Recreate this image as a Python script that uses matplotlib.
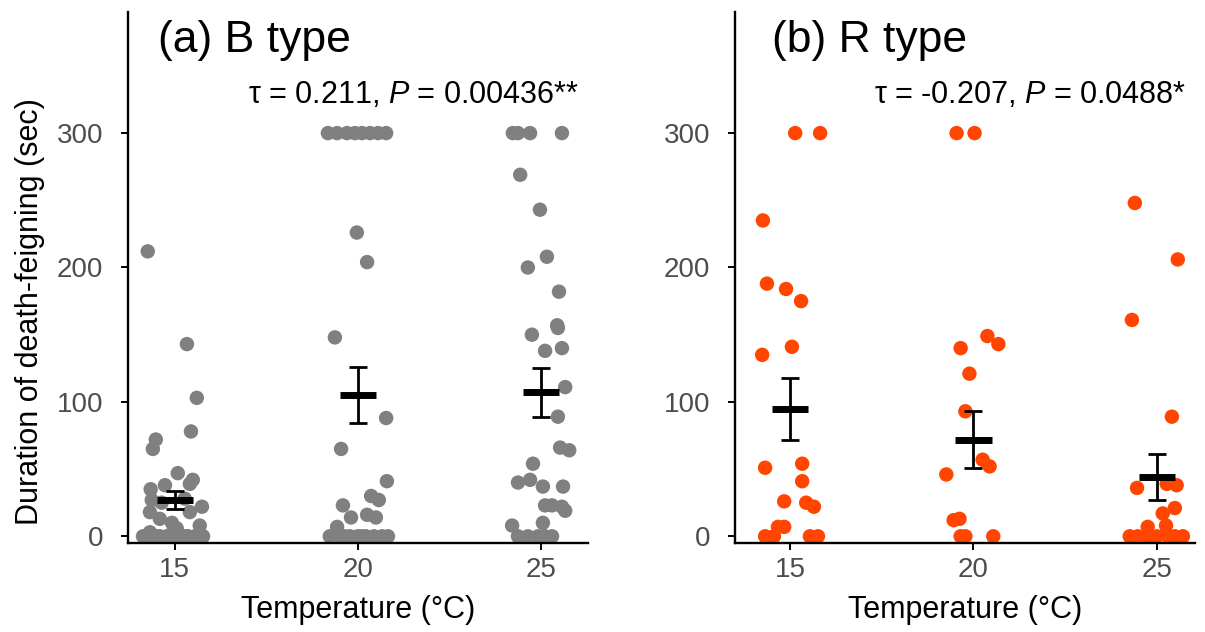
import numpy as np
import matplotlib
matplotlib.use('Agg')
import matplotlib.pyplot as plt

plt.rcParams['font.family'] = ['Liberation Sans', 'DejaVu Sans']
plt.rcParams['mathtext.fontset'] = 'custom'
plt.rcParams['mathtext.rm'] = 'Liberation Sans'
plt.rcParams['mathtext.it'] = 'Liberation Sans:italic'

temps = [15, 20, 25]

# B type: jittered temperature and duration (sec)
b_x = [14.26, 15.33, 15.60, 15.44, 14.48, 14.40, 15.08, 15.49, 15.41, 14.73,
       14.34, 14.37, 15.27, 14.64, 15.74, 15.41, 14.32, 14.59, 14.92, 15.68,
       15.05, 14.32, 14.13, 14.45, 14.78, 15.14, 15.77, 15.36, 14.92, 14.26,
       14.59, 15.55, 15.00, 14.20, 15.20, 14.85, 15.62, 14.50, 15.30,
       19.18, 19.43, 19.70, 19.92, 20.11, 20.33, 20.55, 20.77, 19.97, 20.25,
       19.37, 20.77, 19.54, 20.79, 20.36, 20.57, 19.59, 19.81, 20.25, 20.49,
       19.43, 19.23, 19.51, 19.78, 20.00, 20.22, 20.44, 20.66, 20.82, 19.64,
       20.11,
       24.23, 24.37, 24.70, 25.57, 24.43, 24.97, 25.16, 24.64, 25.49, 25.44,
       25.46, 24.75, 25.57, 25.11, 25.66, 25.46, 25.52, 25.77, 24.78, 24.37,
       24.70, 25.05, 25.60, 25.11, 25.30, 25.57, 25.66, 24.21, 25.05, 24.37,
       24.64, 24.92, 25.30, 25.11]
b_y = [212, 143, 103, 78, 72, 65, 47, 42, 39, 38,
       35, 27, 28, 25, 22, 18, 18, 13, 10, 8,
       6, 3, 0, 0, 0, 0, 0, 0, 2, 0,
       0, 0, 0, 0, 0, 0, 0, 0, 0,
       300, 300, 300, 300, 300, 300, 300, 300, 226, 204,
       148, 88, 65, 41, 30, 27, 23, 14, 16, 14,
       7, 0, 0, 0, 0, 0, 0, 0, 0, 0,
       0,
       300, 300, 300, 300, 269, 243, 208, 200, 182, 157,
       155, 150, 140, 138, 111, 89, 66, 64, 54, 40,
       42, 37, 37, 23, 23, 22, 19, 8, 10, 0,
       0, 0, 0, 0]
b_mean = [27, 105, 107]
b_se = [7, 21, 18]

# R type
r_x = [15.14, 15.82, 14.26, 14.37, 14.89, 15.30, 15.05, 14.24, 14.32, 15.33,
       15.33, 14.84, 15.44, 15.65, 14.67, 14.84, 14.32, 14.56, 15.54, 15.76,
       19.54, 20.03, 20.38, 20.68, 19.65, 19.89, 19.78, 20.25, 20.44, 19.26,
       19.46, 19.62, 19.65, 19.78, 20.54,
       24.40, 25.57, 24.32, 25.41, 24.46, 25.27, 25.54, 25.49, 25.16, 24.75,
       25.25, 24.26, 24.48, 24.75, 25.00, 25.30, 25.49, 25.71]
r_y = [300, 300, 235, 188, 184, 175, 141, 135, 51, 54,
       41, 26, 25, 22, 7, 7, 0, 0, 0, 0,
       300, 300, 149, 143, 140, 121, 93, 57, 52, 46,
       12, 13, 0, 0, 0,
       248, 206, 161, 89, 36, 39, 38, 21, 17, 7,
       8, 0, 0, 0, 0, 0, 0, 0]
r_mean = [95, 72, 44]
r_se = [23, 21, 17]

panels = [
    ("(a) B type", b_x, b_y, b_mean, b_se, '#808080',
     r"τ = 0.211, $\it{P}$ = 0.00436**", (13.72, 26.28), 0.1062),
    ("(b) R type", r_x, r_y, r_mean, r_se, '#FF4500',
     r"τ = -0.207, $\it{P}$ = 0.0488*", (13.50, 26.04), 0.61),
]

fig = plt.figure(figsize=(12.05, 6.32), dpi=100)

for title, xs, ys, means, ses, col, stat, xlim, left in panels:
    ax = fig.add_axes([left, 0.1408, 0.3817, 0.840])
    ax.scatter(xs, ys, s=108, color=col, edgecolors='none', zorder=2)
    t = np.array(temps, dtype=float)
    ax.hlines(means, t - 0.5, t + 0.5, color='black', lw=5, zorder=3)
    ax.errorbar(t, means, yerr=ses, fmt='none', ecolor='black',
                elinewidth=2, capsize=6.5, capthick=2, zorder=3)
    ax.set_xlim(*xlim)
    ax.set_ylim(-5, 390)
    ax.set_xticks(temps)
    ax.set_yticks([0, 100, 200, 300])
    for s in ['top', 'right']:
        ax.spines[s].set_visible(False)
    for s in ['left', 'bottom']:
        ax.spines[s].set_linewidth(1.7)
    ax.tick_params(axis='both', length=5, width=1.4, labelsize=20,
                   labelcolor='#4D4D4D')
    ax.tick_params(axis='y', pad=13)
    ax.tick_params(axis='x', pad=5)
    ax.set_xlabel("Temperature (°C)", fontsize=22, labelpad=9)
    ax.text(0.065 if left < 0.5 else 0.08, 0.947, title, transform=ax.transAxes,
            fontsize=32, va='center', ha='left')
    ax.text(0.98, 0.844, stat, transform=ax.transAxes, fontsize=22,
            va='center', ha='right')

fig.text(30 / 1205, 1 - 312 / 632, "Duration of death-feigning (sec)",
         rotation=90, fontsize=22, va='center', ha='center')

fig.savefig('out.png', dpi=100)
